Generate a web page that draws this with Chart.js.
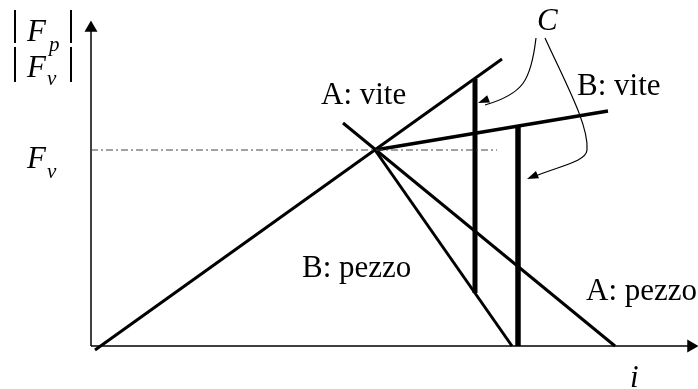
<!DOCTYPE html>
<html>
<head>
<meta charset="utf-8">
<script src="https://cdn.jsdelivr.net/npm/chart.js@4"></script>
<style>
  body { margin: 0; background: #fff; }
  #wrap { width: 698px; height: 389px; position: relative; }
</style>
</head>
<body>
<div id="wrap"><canvas id="chart"></canvas></div>
<script>
// schematic values (arbitrary units, origin at the axes' crossing)
const aVite  = [{x: 0.4, y: -0.4}, {x: 41.1, y: 28.7}];
const aPezzo = [{x: 25.2, y: 22.3}, {x: 52.4, y: 0}];
const bVite  = [{x: 28.4, y: 19.6}, {x: 51.7, y: 23.5}];
const bPezzo = [{x: 28.4, y: 19.6}, {x: 42.1, y: 0}];
const fvLevel = [{x: 0, y: 19.6}, {x: 40.6, y: 19.6}];
const barA = [{x: 38.4, y: 5.3}, {x: 38.4, y: 26.7}];
const barB = [{x: 42.7, y: 0}, {x: 42.7, y: 22.0}];
const xAxisLine = [{x: 0, y: 0}, {x: 60.0, y: 0}];
const yAxisLine = [{x: 0, y: 0}, {x: 0, y: 31.8}];

const lineLabels = ['A: vite', 'B: vite', 'B: pezzo', 'A: pezzo'];

function seg(data, width, extra) {
    return Object.assign({
        data: data,
        showLine: true,
        borderColor: '#000',
        backgroundColor: '#000',
        borderWidth: width,
        pointRadius: 0,
        clip: false
    }, extra || {});
}

const serif = '"Liberation Serif", "Times New Roman", serif';

const labelPlugin = {
    id: 'labels',
    afterDraw(chart) {
        const ctx = chart.ctx;
        const xs = chart.scales.x, ys = chart.scales.y;
        const px = v => xs.getPixelForValue(v);
        const py = v => ys.getPixelForValue(v);
        ctx.save();
        ctx.fillStyle = '#000';
        ctx.textBaseline = 'alphabetic';

        function text(str, x, y, font) {
            ctx.font = font;
            ctx.fillText(str, px(x), py(y));
        }
        const normal = '31px ' + serif;
        const ital = 'italic 31px ' + serif;
        const sub = 'italic 21px ' + serif;

        text(lineLabels[0], 23.0, 24.2, normal);
        text(lineLabels[1], 48.6, 25.1, normal);
        text(lineLabels[2], 21.1, 6.9, normal);
        text(lineLabels[3], 49.5, 4.6, normal);
        text('C', 44.6, 31.6, ital);
        text('i', 53.9, -4.1, ital);

        // F_v beside the dash-dot level
        text('F', -6.4, 17.8, ital);
        text('v', -4.4, 16.8, sub);

        // |F_p| / |F_v| axis title
        text('F', -6.4, 30.5, ital);
        text('p', -4.2, 29.5, sub);
        text('F', -6.4, 26.9, ital);
        text('v', -4.4, 26.1, sub);
        ctx.lineWidth = 2;
        ctx.beginPath();
        [[-7.6, 33.6, 30.3], [-7.6, 29.9, 26.4], [-2.0, 33.6, 30.3], [-2.0, 29.9, 26.4]].forEach(b => {
            ctx.moveTo(px(b[0]), py(b[1]));
            ctx.lineTo(px(b[0]), py(b[2]));
        });
        ctx.stroke();

        // curved arrows from C
        ctx.lineWidth = 1.2;
        function head(tx, ty, fx, fy) {
            const a = Math.atan2(ty - fy, tx - fx), L = 12, w = 0.33;
            ctx.beginPath();
            ctx.moveTo(tx, ty);
            ctx.lineTo(tx - L * Math.cos(a - w), ty - L * Math.sin(a - w));
            ctx.lineTo(tx - L * Math.cos(a + w), ty - L * Math.sin(a + w));
            ctx.closePath();
            ctx.fill();
        }
        ctx.beginPath();
        ctx.moveTo(px(44.5), py(30.8));
        ctx.bezierCurveTo(px(44.0), py(26.5), px(43.2), py(25.2), px(39.4), py(24.1));
        ctx.stroke();
        head(px(38.7), py(24.3), px(40.5), py(25.0));

        ctx.beginPath();
        ctx.moveTo(px(45.4), py(30.8));
        ctx.bezierCurveTo(px(47.6), py(26.0), px(49.8), py(22.0), px(49.6), py(19.6));
        ctx.bezierCurveTo(px(49.5), py(18.4), px(46.8), py(18.0), px(44.2), py(16.9));
        ctx.stroke();
        head(px(43.6), py(16.7), px(45.5), py(17.5));
        ctx.restore();
    }
};

new Chart(document.getElementById('chart'), {
    type: 'scatter',
    data: {
        datasets: [
            seg(fvLevel, 1, {borderColor: '#444', borderDash: [7, 3, 2, 3]}),
            seg(xAxisLine, 1.5, {pointRadius: [0, 6], pointRotation: 90, pointStyle: 'triangle'}),
            seg(yAxisLine, 1.5, {pointRadius: [0, 6], pointRotation: 0, pointStyle: 'triangle'}),
            seg(aVite, 3),
            seg(aPezzo, 3),
            seg(bVite, 3.5),
            seg(bPezzo, 3),
            seg(barA, 5),
            seg(barB, 5.5)
        ]
    },
    options: {
        responsive: true,
        maintainAspectRatio: false,
        animation: false,
        events: [],
        layout: {padding: 0, autoPadding: false},
        scales: {
            x: {type: 'linear', min: -9.1, max: 60.7, display: false},
            y: {type: 'linear', min: -4.3, max: 34.6, display: false}
        },
        plugins: {
            legend: {display: false},
            tooltip: {enabled: false}
        }
    },
    plugins: [labelPlugin]
});
</script>
</body>
</html>
